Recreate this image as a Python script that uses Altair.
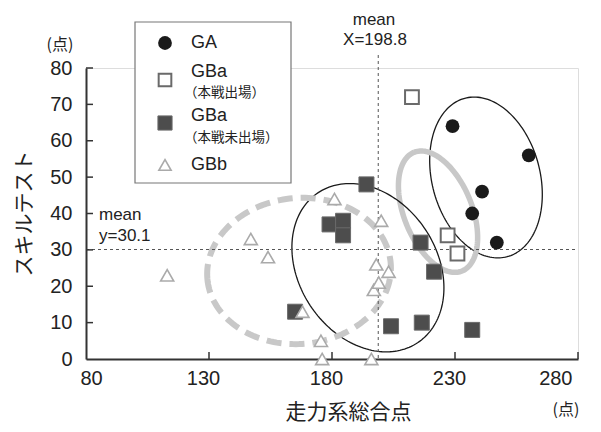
import altair as alt
import pandas as pd
import numpy as np

W, H = 492, 291
XMIN, XMAX, YMIN, YMAX = 80, 280, 0, 80
FONT = "Liberation Sans, Noto Sans CJK JP, sans-serif"
JFONT = "Noto Sans CJK JP, sans-serif"
INK = "#222222"

# ---- data ----
ga_x = [229, 260, 241, 237, 247]
ga_y = [64, 56, 46, 40, 32]
gba_in_x = [212.5, 227, 231]
gba_in_y = [72, 34, 29]
gba_out_x = [194, 179, 184.5, 184.5, 216, 221.5, 165, 204, 216.5, 237]
gba_out_y = [48, 37, 38, 34, 32, 24, 13, 9, 10, 8]
gbb_x = [113, 147, 154, 181, 200, 198, 203, 197, 199, 168, 175.5, 176, 196]
gbb_y = [23, 33, 28, 44, 38, 26, 24, 19, 21, 13, 5, 0, 0]

mean_x = 198.8
mean_y = 30.1
x_ticks = [80, 130, 180, 230, 280]
y_ticks = [0, 10, 20, 30, 40, 50, 60, 70, 80]

# ellipses: centre (data units), semi-axes (px), tilt from vertical (deg)
ellipses = [
    dict(cx=242.6, cy=49.9, a=82, b=54, rot=15, color="#1a1a1a", width=1.3, dash=None),
    dict(cx=223.1, cy=40.5, a=64, b=34, rot=22, color="#c8c8c8", width=5.5, dash=None),
    dict(cx=194.6, cy=25.1, a=90, b=69, rot=33.5, color="#1a1a1a", width=1.3, dash=None),
    dict(cx=166.6, cy=24.2, a=92, b=73, rot=95, color="#c8c8c8", width=6, dash=[15, 8]),
]

kx = W / (XMAX - XMIN)
ky = H / (YMAX - YMIN)

xs = alt.Scale(domain=[XMIN, XMAX], nice=False, zero=False)
ys = alt.Scale(domain=[YMIN, YMAX], nice=False, zero=False)

XAX = alt.Axis(values=x_ticks, ticks=False, grid=False, domainColor="#333333", domainWidth=2,
               labelFont=FONT, labelFontSize=20, labelColor=INK, labelPadding=9, labelOffset=-6,
               title="走力系総合点", titleFont=JFONT, titleFontSize=21, titleFontWeight="normal",
               titleColor=INK, titleX=262, titleY=53, titleBaseline="middle")
YAX = alt.Axis(values=y_ticks, ticks=False, grid=False, domainColor="#333333", domainWidth=2,
               labelFont=FONT, labelFontSize=20, labelColor=INK, labelPadding=14,
               title="スキルテスト", titleFont=JFONT, titleFontSize=21, titleFontWeight="normal",
               titleColor=INK, titleX=-62, titleY=145, titleBaseline="middle", titleAngle=270)


def X(f="x"):
    return alt.X(f, type="quantitative", scale=xs, axis=XAX)


def Y(f="y"):
    return alt.Y(f, type="quantitative", scale=ys, axis=YAX)


one = pd.DataFrame({"k": [0]})
layers = []

# ellipses
for e in ellipses:
    t = np.linspace(0, 2 * np.pi, 181)
    th = np.radians(e["rot"])
    dxp = e["a"] * np.cos(t) * (-np.sin(th)) + e["b"] * np.sin(t) * np.cos(th)
    dyp = e["a"] * np.cos(t) * (-np.cos(th)) + e["b"] * np.sin(t) * (-np.sin(th))
    df = pd.DataFrame({"x": e["cx"] + dxp / kx, "y": e["cy"] - dyp / ky, "o": np.arange(len(t))})
    kw = dict(color=e["color"], strokeWidth=e["width"], clip=False)
    if e["dash"]:
        kw["strokeDash"] = e["dash"]
    layers.append(alt.Chart(df).mark_line(**kw).encode(x=X(), y=Y(), order="o:Q"))

# mean lines
layers.append(alt.Chart(pd.DataFrame({"x": [mean_x]})).mark_rule(
    color="#555555", strokeWidth=1, strokeDash=[3, 3]).encode(
    x=X(), y=alt.value(-13), y2=alt.value(H)))
layers.append(alt.Chart(pd.DataFrame({"y": [mean_y]})).mark_rule(
    color="#555555", strokeWidth=1, strokeDash=[3, 3]).encode(
    y=Y(), x=alt.value(0), x2=alt.value(W)))

# inward ticks
layers.append(alt.Chart(pd.DataFrame({"x": x_ticks[1:]})).mark_rule(
    color="#333333", strokeWidth=1.5).encode(x=X(), y=alt.value(H - 7), y2=alt.value(H)))
layers.append(alt.Chart(pd.DataFrame({"y": y_ticks[1:]})).mark_rule(
    color="#333333", strokeWidth=1.5).encode(y=Y(), x=alt.value(0), x2=alt.value(7)))

# points
layers.append(alt.Chart(pd.DataFrame({"x": gba_out_x, "y": gba_out_y})).mark_point(
    shape="square", filled=True, fill="#4d4d4d", stroke="#6a6a6a", strokeWidth=1,
    size=225, opacity=1).encode(x=X(), y=Y()))
layers.append(alt.Chart(pd.DataFrame({"x": gba_in_x, "y": gba_in_y})).mark_point(
    shape="square", filled=False, fill="white", fillOpacity=1, stroke="#6a6a6a", strokeWidth=2,
    size=190, opacity=1).encode(x=X(), y=Y()))
layers.append(alt.Chart(pd.DataFrame({"x": ga_x, "y": ga_y})).mark_point(
    shape="circle", filled=True, fill="#1a1a1a", size=190, opacity=1).encode(x=X(), y=Y()))
layers.append(alt.Chart(pd.DataFrame({"x": gbb_x, "y": gbb_y})).mark_point(
    shape="triangle-up", filled=False, fill="white", fillOpacity=1, stroke="#aaaaaa",
    strokeWidth=1.6, size=170, opacity=1).encode(x=X(), y=Y()))

# legend
layers.append(alt.Chart(one).mark_rect(fill="white", stroke="#777777", strokeWidth=1.2).encode(
    x=alt.value(49), x2=alt.value(205), y=alt.value(-46), y2=alt.value(115)))
leg_sym = [
    dict(y=-25, shape="circle", filled=True, fill="#1a1a1a", stroke=None, sw=0, size=190),
    dict(y=12, shape="square", filled=False, fill="white", stroke="#6a6a6a", sw=2, size=160),
    dict(y=55, shape="square", filled=True, fill="#4d4d4d", stroke="#6a6a6a", sw=1, size=200),
    dict(y=97, shape="triangle-up", filled=False, fill="white", stroke="#aaaaaa", sw=1.6, size=150),
]
for s in leg_sym:
    kw = dict(shape=s["shape"], filled=s["filled"], fill=s["fill"], fillOpacity=1,
              size=s["size"], opacity=1, strokeWidth=s["sw"])
    if s["stroke"]:
        kw["stroke"] = s["stroke"]
    layers.append(alt.Chart(one).mark_point(**kw).encode(x=alt.value(79), y=alt.value(s["y"])))

texts = [
    ("GA", 105, -25, 18, "left", FONT),
    ("GBa", 105, 4, 18, "left", FONT),
    ("（本戦出場）", 98, 25, 13.5, "left", JFONT),
    ("GBa", 105, 48, 18, "left", FONT),
    ("（本戦未出場）", 98, 70, 13.5, "left", JFONT),
    ("GBb", 105, 97, 18, "left", FONT),
    ("mean", 288, -48, 17, "center", FONT),
    ("X=198.8", 289, -28, 17, "center", FONT),
    ("mean", 13, 147, 17, "left", FONT),
    ("y=30.1", 13, 168, 17, "left", FONT),
    ("(点)", -26, -23, 16, "center", JFONT),
    ("(点)", 480, 342, 16, "center", JFONT),
]
for txt, tx, ty, fs, al, fnt in texts:
    layers.append(alt.Chart(one).mark_text(
        text=txt, font=fnt, fontSize=fs, align=al, baseline="middle", color=INK).encode(
        x=alt.value(tx), y=alt.value(ty)))

chart = alt.layer(*layers).properties(
    width=W, height=H,
    autosize=alt.AutoSizeParams(type="none"),
    padding={"left": 78, "top": 60, "right": 15, "bottom": 65},
).configure_view(stroke=None).configure(background="white")

chart.save("out.html", embed_options={"renderer": "svg", "actions": False})
